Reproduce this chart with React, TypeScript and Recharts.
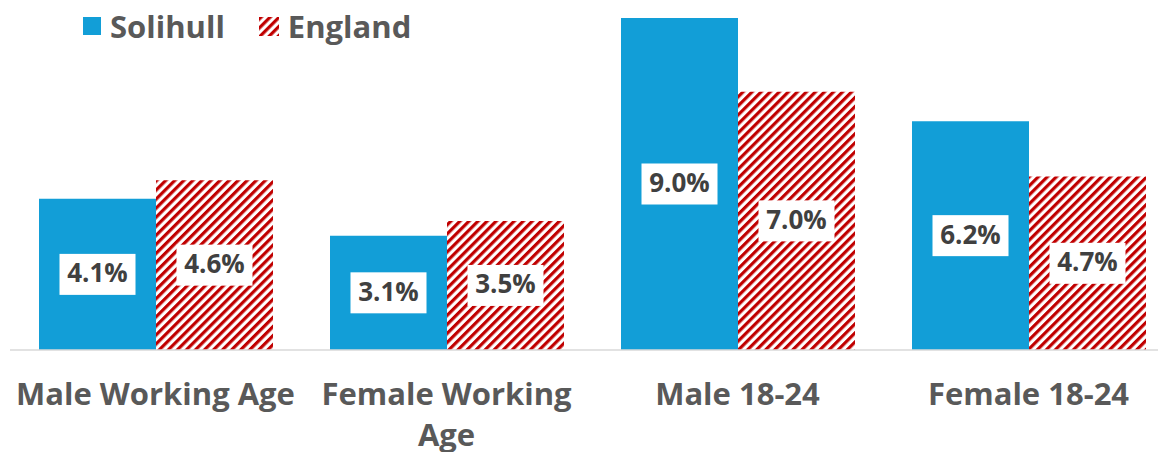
import { BarChart, Bar, XAxis, YAxis, LabelList } from 'recharts';

const categories = ['Male Working Age', 'Female Working Age', 'Male 18-24', 'Female 18-24'];
const solihull = [4.1, 3.1, 9.0, 6.2];
const england = [4.6, 3.5, 7.0, 4.7];

const data = categories.map((name, i) => ({ name, solihull: solihull[i], england: england[i] }));

const FONT = '"Open Sans", sans-serif';
const BLUE = '#129ed7';
const RED = '#c00000';

// wrap long category names like the original
const tickLines: Record<string, string[]> = {
  'Female Working Age': ['Female Working', 'Age'],
};

const CategoryTick = (props: any) => {
  const { x, y, payload } = props;
  const lines = tickLines[payload.value] || [payload.value];
  return (
    <text x={x} y={y} textAnchor="middle" fill="#595959" fontSize={31} fontWeight={700} fontFamily={FONT}>
      {lines.map((l, i) => (
        <tspan key={i} x={x} dy={i === 0 ? 47 : 41}>{l}</tspan>
      ))}
    </text>
  );
};

const BoxLabel = (props: any) => {
  const { x, y, width, height, value } = props;
  const cx = x + width / 2;
  const cy = y + height / 2;
  const w = 76;
  const h = 41;
  return (
    <g>
      <rect x={cx - w / 2} y={cy - h / 2} width={w} height={h} fill="#fff" />
      <text x={cx} y={cy + 1} textAnchor="middle" dominantBaseline="middle" fill="#404040" fontSize={26} fontWeight={700} fontFamily={FONT}>
        {value.toFixed(1)}%
      </text>
    </g>
  );
};

export default function App() {
  return (
    <div style={{ position: 'absolute', left: 0, top: 0, width: 1158, height: 452, overflow: 'hidden', background: '#fff' }}>
      <BarChart
        width={1174}
        height={452}
        data={data}
        margin={{ top: 18, right: 0, bottom: 0, left: 10 }}
        barCategoryGap={29}
        barGap={0}
      >
        <defs>
          <pattern id="hatch" patternUnits="userSpaceOnUse" width={6.4} height={6.4} patternTransform="rotate(45)">
            <rect width={6.4} height={6.4} fill="#fff" />
            <rect x={0} y={0} width={3.2} height={6.4} fill={RED} />
          </pattern>
        </defs>
        <XAxis
          dataKey="name"
          height={102}
          axisLine={{ stroke: '#d9d9d9', strokeWidth: 1.5 }}
          tickLine={false}
          tick={<CategoryTick />}
          interval={0}
        />
        <YAxis hide domain={[0, 9]} />
        <Bar dataKey="solihull" fill={BLUE} isAnimationActive={false}>
          <LabelList dataKey="solihull" content={<BoxLabel />} />
        </Bar>
        <Bar dataKey="england" fill="url(#hatch)" isAnimationActive={false}>
          <LabelList dataKey="england" content={<BoxLabel />} />
        </Bar>
      </BarChart>
      <div style={{ position: 'absolute', top: 6, left: 83, display: 'flex', alignItems: 'center', fontFamily: FONT, fontWeight: 700, fontSize: 31, color: '#595959', lineHeight: '40px' }}>
        <svg width={18} height={18} style={{ marginRight: 9 }}>
          <rect width={18} height={18} fill={BLUE} />
        </svg>
        <span>Solihull</span>
        <svg width={20} height={19} style={{ marginLeft: 34, marginRight: 9 }}>
          <defs>
            <pattern id="hatchLegend" patternUnits="userSpaceOnUse" width={6.4} height={6.4} patternTransform="rotate(45)">
              <rect width={6.4} height={6.4} fill="#fff" />
              <rect x={0} y={0} width={3.2} height={6.4} fill={RED} />
            </pattern>
          </defs>
          <rect width={20} height={19} fill="url(#hatchLegend)" />
        </svg>
        <span>England</span>
      </div>
    </div>
  );
}
